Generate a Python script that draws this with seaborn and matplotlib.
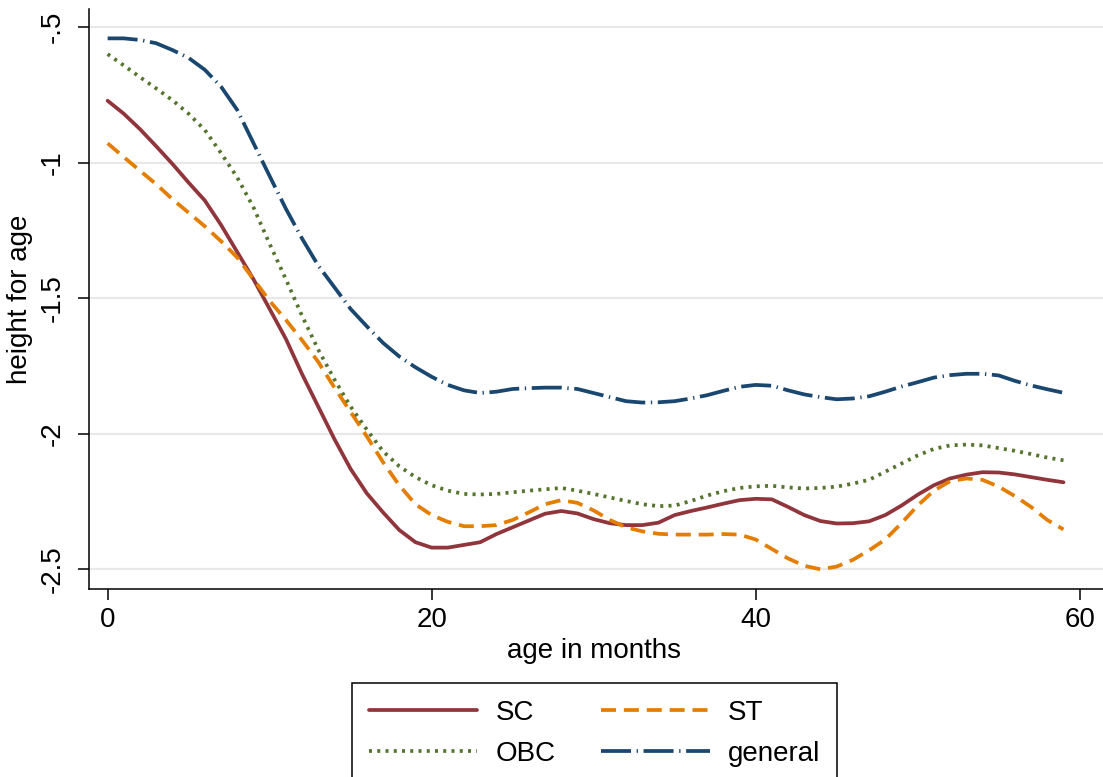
import numpy as np
import pandas as pd
import matplotlib
matplotlib.use("Agg")
import matplotlib.pyplot as plt
import seaborn as sns

# ---------------- data ----------------
months = list(range(60))
groups = ["SC", "ST", "OBC", "general"]

sc = [-0.772, -0.82, -0.877, -0.94, -1.005, -1.074, -1.14, -1.23, -1.33, -1.43,
      -1.54, -1.65, -1.78, -1.90, -2.02, -2.13, -2.22, -2.29, -2.355, -2.40,
      -2.42, -2.42, -2.41, -2.40, -2.37, -2.345, -2.32, -2.295, -2.285, -2.294,
      -2.315, -2.33, -2.337, -2.337, -2.328, -2.30, -2.285, -2.272, -2.258, -2.245,
      -2.24, -2.242, -2.27, -2.30, -2.322, -2.331, -2.33, -2.323, -2.30, -2.265,
      -2.225, -2.19, -2.165, -2.151, -2.142, -2.143, -2.15, -2.16, -2.17, -2.179]
st = [-0.929, -0.98, -1.03, -1.08, -1.135, -1.185, -1.235, -1.29, -1.35, -1.43,
      -1.51, -1.58, -1.655, -1.735, -1.83, -1.92, -2.01, -2.105, -2.19, -2.26,
      -2.30, -2.325, -2.341, -2.341, -2.337, -2.318, -2.29, -2.26, -2.245, -2.255,
      -2.283, -2.318, -2.345, -2.36, -2.369, -2.372, -2.372, -2.372, -2.37, -2.372,
      -2.39, -2.425, -2.46, -2.487, -2.50, -2.49, -2.465, -2.43, -2.39, -2.33,
      -2.265, -2.21, -2.175, -2.165, -2.17, -2.195, -2.23, -2.27, -2.318, -2.353]
obc = [-0.60, -0.642, -0.685, -0.727, -0.77, -0.82, -0.88, -0.965, -1.055, -1.165,
       -1.30, -1.43, -1.565, -1.69, -1.80, -1.90, -1.985, -2.065, -2.12, -2.16,
       -2.19, -2.21, -2.222, -2.224, -2.222, -2.216, -2.21, -2.205, -2.20, -2.21,
       -2.222, -2.235, -2.248, -2.26, -2.267, -2.265, -2.248, -2.228, -2.212, -2.20,
       -2.194, -2.192, -2.198, -2.202, -2.20, -2.195, -2.184, -2.17, -2.14, -2.11,
       -2.08, -2.056, -2.043, -2.04, -2.043, -2.053, -2.063, -2.075, -2.088, -2.098]
general = [-0.542, -0.542, -0.548, -0.56, -0.585, -0.614, -0.658, -0.72, -0.806, -0.928,
           -1.05, -1.17, -1.28, -1.38, -1.46, -1.54, -1.604, -1.665, -1.715, -1.755,
           -1.79, -1.82, -1.84, -1.85, -1.845, -1.835, -1.832, -1.83, -1.83, -1.835,
           -1.85, -1.865, -1.88, -1.885, -1.884, -1.88, -1.87, -1.858, -1.842, -1.827,
           -1.82, -1.823, -1.84, -1.855, -1.865, -1.873, -1.87, -1.862, -1.845, -1.826,
           -1.81, -1.793, -1.784, -1.779, -1.779, -1.785, -1.805, -1.822, -1.836, -1.849]

yticks = [-2.5, -2.0, -1.5, -1.0, -0.5]
ytick_labels = ["-2.5", "-2", "-1.5", "-1", "-.5"]
xticks = [0, 20, 40, 60]
xtick_labels = ["0", "20", "40", "60"]

# ---------------- plot ----------------
sns.set_theme(style="white")
plt.rcParams["font.family"] = ["Liberation Sans", "DejaVu Sans"]
plt.rcParams["text.color"] = "black"

df = pd.DataFrame({
    "age": months * 4,
    "haz": sc + st + obc + general,
    "group": np.repeat(groups, len(months)),
})

W, H = 1103, 777
fig = plt.figure(figsize=(W / 100, H / 100), dpi=100)
ax = fig.add_axes([89 / W, 1 - 589 / H, (W - 89) / W, (589 - 9) / H])

LW = 2.7
palette = {"SC": "#90353b", "ST": "#e37e00", "OBC": "#55752f", "general": "#1a476f"}
dashes = {"SC": "", "ST": (4, 2.1), "OBC": (0.8, 1.4), "general": (8, 1.5, 0.35, 1.5)}

sns.lineplot(data=df, x="age", y="haz", hue="group", style="group",
             hue_order=groups, style_order=groups, palette=palette,
             dashes=dashes, linewidth=LW, ax=ax)

ax.set_xlim(-1.15, 61.44)
ax.set_ylim(-2.5726, -0.4337)
ax.set_yticks(yticks)
ax.set_yticklabels(ytick_labels)
ax.set_xticks(xticks)
ax.set_xticklabels(xtick_labels)

ax.yaxis.grid(True, color="#e8e8e8", linewidth=1.6)
ax.xaxis.grid(False)
ax.set_axisbelow(True)

for s in ["top", "right"]:
    ax.spines[s].set_visible(False)
for s in ["left", "bottom"]:
    ax.spines[s].set_color("black")
    ax.spines[s].set_linewidth(1.1)

ax.tick_params(axis="both", which="major", direction="out", length=8, width=1.1,
               color="black", labelsize=20, labelcolor="black",
               bottom=True, left=True, top=False, right=False)
ax.tick_params(axis="y", pad=9)
ax.tick_params(axis="x", pad=5)
for t in ax.get_yticklabels():
    t.set_rotation(90)
    t.set_va("center")

ax.set_xlabel("age in months", fontsize=20, color="black")
ax.set_ylabel("height for age", fontsize=20, color="black")
ax.xaxis.set_label_coords(0.4985, -0.0845)
ax.yaxis.set_label_coords(-0.055, 0.5)

handles, labels = ax.get_legend_handles_labels()
order = [0, 2, 1, 3]
leg = ax.legend([handles[i] for i in order], [labels[i] for i in order],
                ncol=2, loc="upper center", bbox_to_anchor=(594.5 / W, 1 - 683 / H),
                bbox_transform=fig.transFigure, frameon=True, fancybox=False,
                fontsize=20, handlelength=3.9, handletextpad=0.65,
                columnspacing=1.65, borderpad=0.6, labelspacing=0.55,
                borderaxespad=0, edgecolor="black", framealpha=1)
leg.get_frame().set_linewidth(1.1)
for h in leg.get_lines():
    h.set_linewidth(LW)
for t in leg.get_texts():
    t.set_color("black")

fig.savefig("out.png", dpi=100)
